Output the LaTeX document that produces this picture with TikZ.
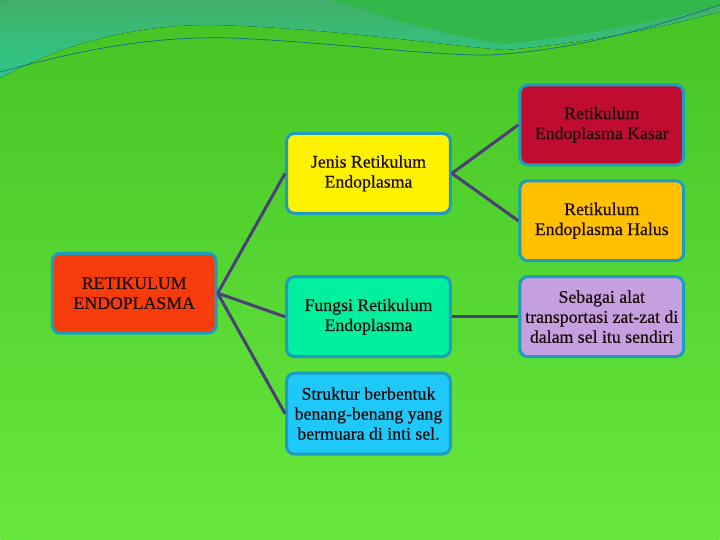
\documentclass[tikz,border=0pt]{standalone}
\usepackage{fontspec}
\setmainfont{Liberation Serif}[FakeBold=0.5]
\usepackage{tikz}
\definecolor{bingkai}{HTML}{1E9CC0}
\definecolor{garis}{HTML}{4B3F78}
\definecolor{hijauatas}{HTML}{45C326}
\definecolor{hijaubawah}{HTML}{66E83D}
\tikzstyle{kotak} = [draw=bingkai, line width=3pt, rounded corners=8pt, minimum width=164pt, minimum height=80pt, align=center, text={rgb,255:red,30;green,12;blue,12}, font=\fontsize{17.8}{20}\selectfont, inner sep=2pt]
\tikzstyle{hubung} = [draw=garis, line width=3pt]

\begin{document}
\begin{tikzpicture}[x=1pt,y=-1pt]
		% latar
		\fill[top color=hijauatas, bottom color=hijaubawah] (0,0) rectangle (720,540);
		\fill[top color={rgb,255:red,64;green,176;blue,104}, bottom color={rgb,255:red,46;green,200;blue,138}] (0,0) -- (0,78) .. controls (60,45) and (130,25) .. (210,25) .. controls (320,27) and (440,45) .. (505,50) .. controls (600,42) and (670,25) .. (720,12) -- (720,0) -- cycle;
		\fill[color={rgb,255:red,50;green,184;blue,74}] (330,0) .. controls (380,15) and (440,35) .. (505,44) .. controls (590,36) and (670,18) .. (720,5) -- (720,0) -- cycle;
		\draw[color={rgb,255:red,22;green,110;blue,128}, line width=0.7pt] (0,72) .. controls (80,50) and (150,36) .. (230,38) .. controls (330,42) and (430,56) .. (490,55) .. controls (580,50) and (660,25) .. (720,5);
		\useasboundingbox (0,0) rectangle (720,540);
		% kotak
		\node[kotak, fill={rgb,255:red,245;green,60;blue,10}] (re) at (134,293.5) {RETIKULUM\\ENDOPLASMA};
		\node[kotak, fill=yellow] (jenis) at (368.5,173.5) {Jenis Retikulum\\Endoplasma};
		\node[kotak, fill={rgb,255:red,0;green,240;blue,160}] (fungsi) at (368.5,317) {Fungsi Retikulum\\Endoplasma};
		\node[kotak, fill={rgb,255:red,30;green,200;blue,248}, minimum height=81pt] (struktur) at (368.5,414) {Struktur berbentuk\\benang-benang yang\\bermuara di inti sel.};
		\node[kotak, fill={rgb,255:red,192;green,12;blue,48}] (kasar) at (602,125) {Retikulum\\Endoplasma Kasar};
		\node[kotak, fill={rgb,255:red,255;green,192;blue,0}] (halus) at (602,221) {Retikulum\\Endoplasma Halus};
		\node[kotak, fill={rgb,255:red,196;green,160;blue,224}] (sebagai) at (602,317) {Sebagai alat\\transportasi zat-zat di\\dalam sel itu sendiri};
		% garis
		\draw[hubung] (re.east) -- (jenis.west);
		\draw[hubung] (re.east) -- (fungsi.west);
		\draw[hubung] (re.east) -- (struktur.west);
		\draw[hubung] (jenis.east) -- (kasar.west);
		\draw[hubung] (jenis.east) -- (halus.west);
		\draw[hubung] (fungsi.east) -- (sebagai.west);
	\end{tikzpicture}
\end{document}
